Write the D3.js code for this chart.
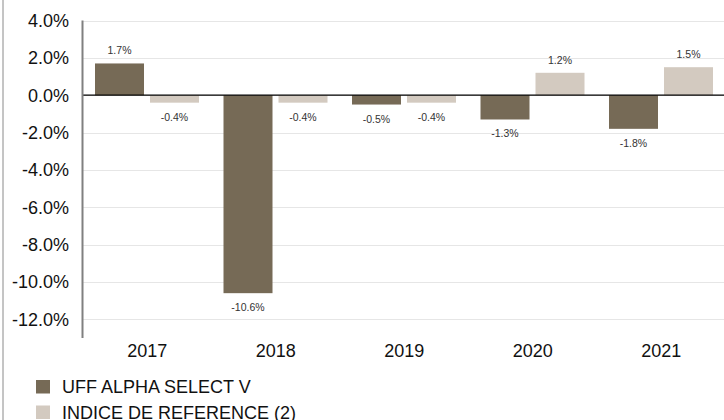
<!DOCTYPE html>
<html>
<head>
<meta charset="utf-8">
<script src="https://cdn.jsdelivr.net/npm/d3@7/dist/d3.min.js"></script>
<style>
  html, body { margin: 0; padding: 0; background: #fff; }
  svg { display: block; font-family: "Liberation Sans", Arial, sans-serif; }
</style>
</head>
<body>
<svg id="chart" width="724" height="420"></svg>
<script>
const years = ["2017", "2018", "2019", "2020", "2021"];
const seriesNames = ["UFF ALPHA SELECT V", "INDICE DE REFERENCE (2)"];
const fundValues = [1.7, -10.6, -0.5, -1.3, -1.8];
const indexValues = [-0.4, -0.4, -0.4, 1.2, 1.5];
const yTicks = [4, 2, 0, -2, -4, -6, -8, -10, -12];
const colors = ["#766a56", "#d3cac0"];

const svg = d3.select("#chart");
const W = 724, H = 420;

// frame line on the left
svg.append("line").attr("x1", 3).attr("x2", 3).attr("y1", 0).attr("y2", H)
  .attr("stroke", "#8a8a8a").attr("stroke-width", 1);

const plotLeft = 83, step = 128.5;
const x = d3.scaleBand().domain(years).range([plotLeft, plotLeft + step * years.length]).padding(0);
const y = d3.scaleLinear().domain([-13, 4]).range([338, 20.5]);
const barW = 49;
const offsets = [12, 67];

// gridlines
svg.append("g").selectAll("line").data(yTicks).join("line")
  .attr("x1", plotLeft).attr("x2", W)
  .attr("y1", d => Math.round(y(d)) + 0.5).attr("y2", d => Math.round(y(d)) + 0.5)
  .attr("stroke", "#e6e6e6").attr("stroke-width", 1);

// y tick labels
svg.append("g").selectAll("text").data(yTicks).join("text")
  .attr("x", 69).attr("y", d => y(d) + 6.5)
  .attr("text-anchor", "end").attr("font-size", 18).attr("fill", "#111")
  .text(d => d.toFixed(1) + "%");

const series = [fundValues, indexValues];
series.forEach((vals, si) => {
  const g = svg.append("g");
  g.selectAll("rect").data(vals).join("rect")
    .attr("x", (d, i) => x(years[i]) + offsets[si])
    .attr("width", barW)
    .attr("y", d => y(Math.max(0, d)))
    .attr("height", d => Math.abs(y(d) - y(0)))
    .attr("fill", colors[si]);
  g.selectAll("text").data(vals).join("text")
    .attr("x", (d, i) => x(years[i]) + offsets[si] + barW / 2)
    .attr("y", d => d >= 0 ? y(d) - 9 : y(d) + 18)
    .attr("text-anchor", "middle").attr("font-size", 10.5).attr("fill", "#333")
    .text(d => d.toFixed(1) + "%");
});

// zero line
svg.append("line").attr("x1", plotLeft).attr("x2", W)
  .attr("y1", y(0)).attr("y2", y(0)).attr("stroke", "#000").attr("stroke-width", 1.2);

// y axis line
svg.append("line").attr("x1", 82.5).attr("x2", 82.5)
  .attr("y1", y(4)).attr("y2", y(-13)).attr("stroke", "#808080").attr("stroke-width", 2);

// x labels
svg.append("g").selectAll("text").data(years).join("text")
  .attr("x", d => x(d) + x.bandwidth() / 2).attr("y", 356.5)
  .attr("text-anchor", "middle").attr("font-size", 18).attr("fill", "#111")
  .text(d => d);

// legend
const leg = svg.append("g").selectAll("g").data(seriesNames).join("g")
  .attr("transform", (d, i) => `translate(36, ${380 + i * 25.5})`);
leg.append("rect").attr("width", 14).attr("height", 13.5).attr("fill", (d, i) => colors[i]);
leg.append("text").attr("x", 26).attr("y", 13).attr("font-size", 18).attr("fill", "#111").text(d => d);
</script>
</body>
</html>
